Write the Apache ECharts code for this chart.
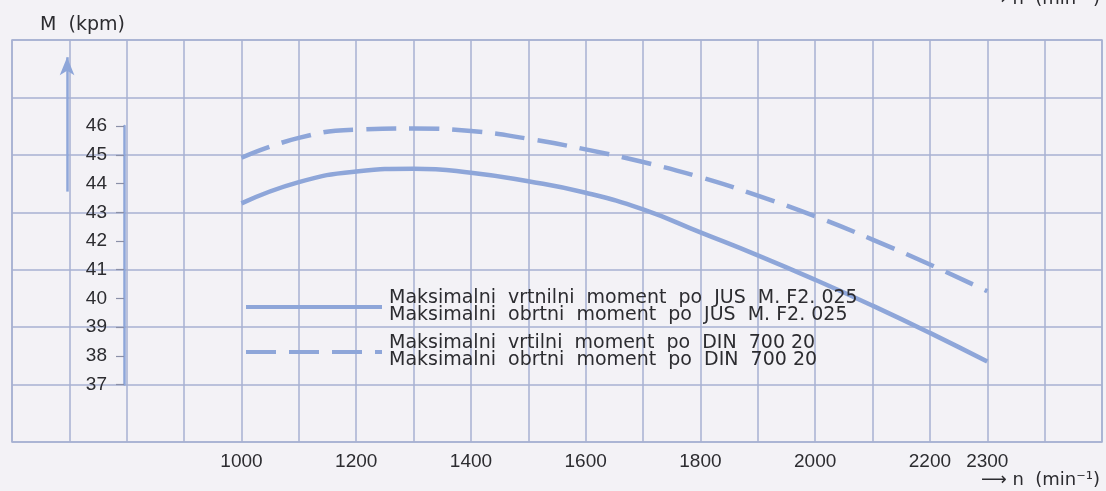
<!DOCTYPE html>
<html>
<head>
<meta charset="utf-8">
<script src="https://cdn.jsdelivr.net/npm/echarts@6/dist/echarts.min.js"></script>
<style>
  html, body { margin: 0; padding: 0; background: #f3f2f6; }
  #chart { width: 1106px; height: 491px; }
</style>
</head>
<body>
<div id="chart"></div>
<script>
// podatki, odčitani z diagrama
var rpm = [1000, 1100, 1200, 1300, 1400, 1500, 1600, 1700, 1800, 1900, 2000, 2100, 2200, 2300];
var momentJus = [43.31, 44.05, 44.42, 44.52, 44.38, 44.08, 43.68, 43.1, 42.3, 41.5, 40.65, 39.75, 38.8, 37.8];
var momentDin = [44.9, 45.59, 45.88, 45.92, 45.83, 45.56, 45.19, 44.75, 44.22, 43.58, 42.86, 42.05, 41.18, 40.25];
var xLabels = [1000, 1200, 1400, 1600, 1800, 2000, 2200, 2300];
var yLabels = [37, 38, 39, 40, 41, 42, 43, 44, 45, 46];

var nameJus = "Maksimalni  vrtnilni  moment  po  JUS  M. F2. 025\nMaksimalni  obrtni  moment  po  JUS  M. F2. 025";
var nameDin = "Maksimalni  vrtilni  moment  po  DIN  700 20\nMaksimalni  obrtni  moment  po  DIN  700 20";

var blue = "#8ea6d9";
var gridColor = "#a7b1d2";
var textColor = "#2c2c30";
var font = "'Liberation Sans', Arial, sans-serif";
var wideFont = "'DejaVu Sans', sans-serif";

function pairs(ys) {
  return rpm.map(function (x, i) { return [x, ys[i]]; });
}

var myChart = echarts.init(document.getElementById("chart"));

var option = {
  backgroundColor: "#f3f2f6",
  animation: false,
  textStyle: { fontFamily: font },
  grid: [
    { left: 12, right: 4, top: 40, bottom: 49, show: true, borderColor: gridColor, borderWidth: 1.5 },
    // os z oznakami 37..46
    { left: 124, width: 10, top: 126.1, height: 258.5 }
  ],
  xAxis: [
    {
      type: "value",
      min: 600,
      max: 2500,
      interval: 100,
      axisLine: { show: false },
      axisTick: { show: false },
      splitLine: { show: true, lineStyle: { color: gridColor, width: 1.5 } },
      axisLabel: {
        fontSize: 19,
        color: textColor,
        margin: 10,
        formatter: function (v) { return xLabels.indexOf(v) >= 0 ? String(v) : ""; }
      }
    },
    { type: "value", gridIndex: 1, min: 0, max: 1, show: false }
  ],
  yAxis: [
    {
      type: "value",
      min: 35,
      max: 49,
      interval: 2,
      axisLine: { show: false },
      axisTick: { show: false },
      axisLabel: { show: false },
      splitLine: { show: true, lineStyle: { color: gridColor, width: 1.5 } }
    },
    {
      type: "value",
      gridIndex: 1,
      min: 37,
      max: 46,
      interval: 1,
      axisLine: { show: true, lineStyle: { color: blue, width: 2.5 } },
      axisTick: { show: true, length: 8, lineStyle: { color: "#8a90a8", width: 1.2 } },
      axisLabel: {
        fontSize: 19,
        color: textColor,
        margin: 17,
        formatter: function (v) { return yLabels.indexOf(v) >= 0 ? String(v) : ""; }
      },
      splitLine: { show: false }
    }
  ],
  legend: {
    orient: "vertical",
    left: 239,
    top: 284,
    itemWidth: 136,
    itemHeight: 14,
    itemGap: 9,
    itemStyle: { opacity: 0 },
    lineStyle: { width: 4 },
    textStyle: { fontSize: 19, lineHeight: 17, color: textColor, fontFamily: wideFont, padding: [0, 0, 0, 2] },
    data: [nameJus, nameDin]
  },
  graphic: [
    { type: "text", left: 40, top: 16, style: { text: "M  (kpm)", fontSize: 19, fill: textColor, fontFamily: wideFont } },
    { type: "text", right: 6, bottom: 2, style: { text: "⟶ n  (min⁻¹)", fontSize: 18, fill: textColor, fontFamily: wideFont } },
    { type: "text", right: 6, top: -10, style: { text: "⟶ n  (min⁻¹)", fontSize: 18, fill: textColor, fontFamily: wideFont } }
  ],
  series: [
    {
      name: nameJus,
      type: "line",
      smooth: true,
      symbol: "none",
      lineStyle: { color: blue, width: 4.5 },
      itemStyle: { color: blue },
      data: pairs(momentJus),
      markLine: {
        silent: true,
        symbol: ["none", "arrow"],
        symbolSize: [11, 18],
        label: { show: false },
        lineStyle: { color: blue, width: 2.5, type: "solid" },
        data: [[{ coord: [696, 43.72] }, { coord: [696, 48.4] }]]
      }
    },
    {
      name: nameDin,
      type: "line",
      smooth: true,
      symbol: "none",
      lineStyle: { color: blue, width: 4.5, type: [30, 13] },
      itemStyle: { color: blue },
      data: pairs(momentDin)
    }
  ]
};

myChart.setOption(option);
</script>
</body>
</html>
